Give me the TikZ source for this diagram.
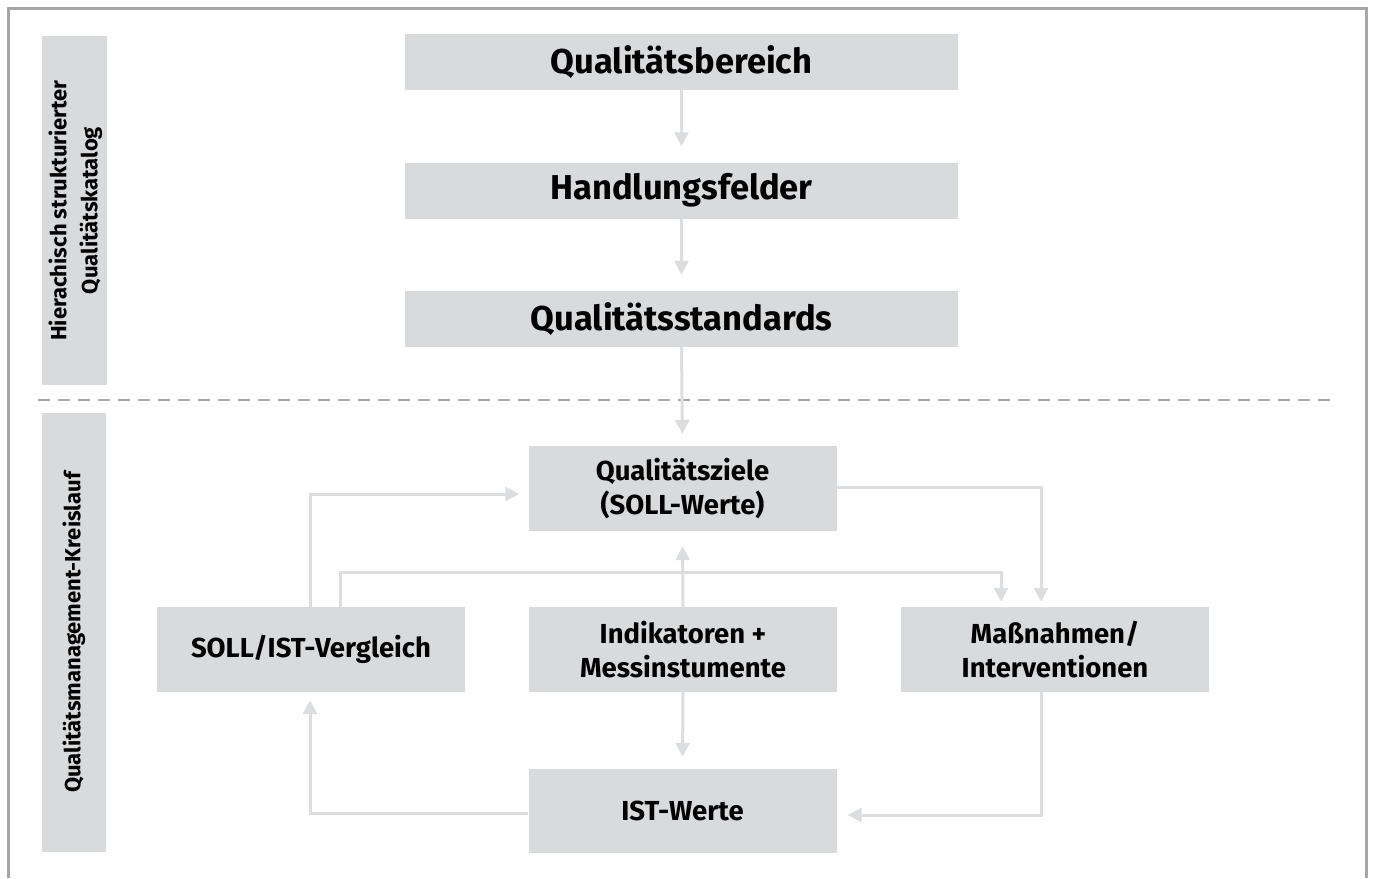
\documentclass[tikz,border=0pt]{standalone}
\usepackage{fontspec}
\setmainfont{Fira Sans}
\usetikzlibrary{arrows.meta}
\definecolor{boxgray}{HTML}{D9DADB}
\definecolor{linegray}{HTML}{DCDDDE}
\definecolor{framegray}{HTML}{A6A6A6}
\begin{document}
\begin{tikzpicture}[x=1pt,y=-1pt,
  bigbox/.style={fill=boxgray, minimum width=553pt, minimum height=56pt, inner sep=0pt,
    font=\fontsize{34.5}{40}\selectfont\bfseries},
  cyclebox/.style={fill=boxgray, minimum width=308pt, minimum height=85pt, inner sep=0pt,
    align=center, font=\fontsize{27.5}{34}\selectfont\bfseries},
  sidebox/.style={fill=boxgray, inner sep=0pt},
  sidetext/.style={rotate=90, align=center, font=\fontsize{22}{31}\selectfont\bfseries},
  flow/.style={draw=linegray, line width=3pt,
    -{Triangle[length=14pt,width=14pt]}},
]
\useasboundingbox (0,0) rectangle (1373,878);

% outer frame, open at the bottom
\draw[framegray, line width=3pt] (8,878) -- (8,8) -- (1366,8) -- (1366,878);

% section labels
\node[sidebox, minimum width=65pt, minimum height=349pt] (side1) at (74.5,210.5) {};
\node[sidetext] (lab1) at ([xshift=1pt]side1.center) {Hierachisch strukturierter\\Qualitätskatalog};
\node[sidebox, minimum width=64pt, minimum height=439pt] (side2) at (74,632.5) {};
\node[sidetext] (lab2) at (side2.center) {Qualitätsmanagement-Kreislauf};

% separator between the two sections
\draw[framegray, line width=2.5pt, dash pattern=on 12pt off 8pt] (38,400) -- (1336,400);

% catalogue hierarchy
\node[bigbox] (qb) at (681.5,62) {Qualitätsbereich};
\node[bigbox] (hf) at (681.5,190.5) {Handlungsfelder};
\node[bigbox] (qs) at (681.5,319) {Qualitätsstandards};

% management cycle
\node[cyclebox] (ziele) at (682.5,488.5) {Qualitätsziele\\(SOLL-Werte)};
\node[cyclebox] (soll) at (311,649.5) {SOLL/IST-Vergleich};
\node[cyclebox] (ind) at (683,649.5) {Indikatoren +\\Messinstumente};
\node[cyclebox] (mass) at (1055,649.5) {Maßnahmen/\\Interventionen};
\node[cyclebox, minimum height=84pt] (ist) at (682.5,811) {IST-Werte};

% routing columns
\coordinate (cA) at (310,0);
\coordinate (cB) at (340,572);
\coordinate (cC) at (1001,0);
\coordinate (cD) at (1041,0);
\coordinate (rZ) at (0,494);

\draw[flow, shorten >=16pt] (qb.south) -- (hf.north);
\draw[flow, shorten >=16pt] (hf.south) -- (qs.north);
\draw[flow, shorten >=12pt] (qs.south) -- (ziele.north);

\draw[flow, shorten >=9pt] (soll.north -| cA) |- (ziele.west |- rZ);
\draw[flow, shorten >=5pt] (soll.north -| cB) -- (cB) -| (mass.north -| cC);
\draw[flow, shorten >=5pt] ([yshift=1.5pt]ziele.east) -| (mass.north -| cD);
\draw[flow, shorten >=15pt] (ind.north) -- (ziele.south);
\draw[flow, shorten >=12pt] (ind.south) -- (ist.north);
\draw[flow, shorten >=8pt] ([yshift=-2pt]ist.west) -| (soll.south -| cA);
\draw[flow, shorten >=11pt] (mass.south -| cD) |- ([yshift=-4pt]ist.east);
\end{tikzpicture}
\end{document}
